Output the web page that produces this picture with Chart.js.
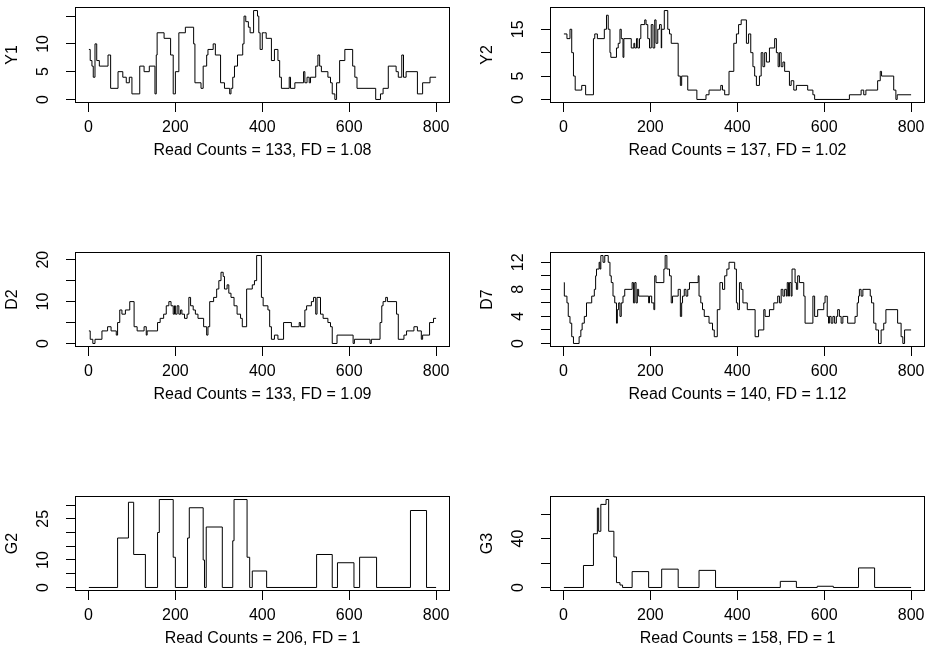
<!DOCTYPE html>
<html>
<head>
<meta charset="utf-8">
<script src="https://cdn.jsdelivr.net/npm/chart.js@4.4.1/dist/chart.umd.min.js"></script>
<style>
  body { margin: 0; background: #fff; }
  #wrap { position: relative; width: 926px; height: 661px; }
  canvas { position: absolute; }
</style>
</head>
<body>
<div id="wrap"></div>
<script>
// shared x axis ticks (position along the region)
const xTicks = [0, 200, 400, 600, 800];
const xMin = -31, xMax = 832;

// Y1
const y1Pos = [1,4,8,11,15,19,25,45,51,68,79,87,94,100,118,128,140,153,156,158,174,189,195,200,208,223,242,245,259,264,272,275,287,292,304,313,325,328,332,336,343,355,358,362,368,372,380,389,392,395,400,405,409,421,428,436,440,444,462,465,475,495,498,503,508,511,523,528,532,536,551,557,561,567,571,578,590,608,613,618,661,672,678,690,708,713,721,725,731,757,769,786,800];
const y1Val = [9,7,6,4,10,7,6,8,2,5,4,3,4,1,6,5,6,1,8,12,11,8,1,5,12,13,10,3,2,6,8,9,10,8,3,2,1,2,4,6,8,10,15,14,13,12,16,15,12,9,12,12,11,7,9,7,4,2,4,2,3,5,3,4,3,4,6,8,6,5,4,3,1,0,3,7,9,6,4,2,0,1,2,6,5,4,8,4,5,1,3,4,4];

// Y2
const y2Pos = [1,8,15,19,23,27,42,51,69,72,78,94,99,103,107,109,122,126,130,133,137,139,156,162,164,168,171,175,178,187,190,194,198,202,206,210,213,217,221,225,226,232,240,244,248,264,269,272,286,307,328,335,362,366,371,381,392,398,403,409,421,426,431,436,440,444,451,455,459,463,467,474,486,490,494,497,501,505,509,520,524,530,536,562,574,578,658,685,691,696,723,729,732,760,765,768,800];
const y2Val = [14,13,15,10,5,2,3,1,13,14,13,15,18,15,10,9,11,12,15,13,9,13,11,12,11,13,11,13,16,17,16,13,11,16,11,17,12,15,16,11,15,19,15,14,12,5,3,5,2,0,1,2,3,2,1,6,12,14,16,17,12,14,10,7,5,3,5,10,7,10,8,11,13,10,7,10,7,8,6,3,4,2,3,2,1,0,1,2,1,2,4,6,5,2,0,1,1];

// D2
const d2Pos = [1,4,10,15,31,44,52,64,67,72,77,85,95,105,112,128,133,135,159,165,173,179,185,190,195,198,200,204,208,212,215,221,227,231,235,241,246,252,265,272,275,279,288,295,300,305,310,313,319,323,328,335,342,350,354,364,377,382,387,398,402,413,417,421,428,436,449,467,485,488,498,502,513,518,523,526,534,540,551,557,561,572,609,612,648,651,671,675,678,684,688,709,713,726,732,749,757,766,769,785,794,800];
const d2Val = [3,1,0,1,3,4,3,2,5,8,7,8,10,4,3,4,2,3,5,6,7,9,10,9,7,9,7,9,7,8,7,6,7,11,9,8,7,6,4,2,4,10,11,13,15,17,16,13,14,12,11,9,7,6,4,13,14,15,21,11,9,8,4,1,2,1,5,4,5,4,8,9,10,11,7,11,7,6,5,4,0,2,0,1,0,1,5,9,10,11,10,7,1,2,3,4,3,1,2,5,6,6];

// D7
const d7Pos = [1,2,8,11,15,19,23,36,40,43,48,53,65,71,74,76,82,84,86,91,95,103,107,110,114,118,122,124,127,130,133,137,141,158,161,164,167,170,173,196,198,203,208,210,213,231,234,238,244,248,251,264,269,272,274,278,282,286,290,310,312,316,320,324,335,343,347,354,360,366,371,376,381,394,398,401,405,409,413,423,441,449,461,464,474,484,493,497,501,505,509,513,515,518,520,524,526,533,536,539,543,553,556,574,578,585,599,602,607,610,612,616,620,624,628,631,635,639,643,654,671,676,679,681,685,689,706,709,714,719,725,731,737,742,769,777,781,785,800];
const d7Val = [9,7,6,4,3,1,0,1,2,3,4,6,7,8,10,11,12,11,13,12,13,12,10,9,7,6,3,5,6,4,6,7,8,9,6,9,6,8,7,6,7,6,5,10,9,11,13,11,10,6,7,8,4,6,7,8,7,8,9,10,7,6,5,4,3,2,1,5,9,8,10,11,12,11,6,5,9,8,6,5,1,2,5,4,5,6,7,6,8,7,8,7,9,7,9,7,11,9,8,10,9,7,3,7,4,5,6,7,4,3,4,3,4,3,4,5,4,3,4,3,4,6,7,8,7,8,7,6,3,2,0,2,3,5,3,1,0,2,2];

// G2
const g2Pos = [1,67,92,104,131,159,163,195,200,228,232,264,267,271,308,332,335,365,371,377,410,525,561,573,611,624,663,741,778,800];
const g2Val = [0,18,31,12,0,20,32,11,0,18,29,10,0,22,0,17,32,11,0,6,0,12,0,9,0,11,0,28,0,0];

// G3
const g3Pos = [1,46,69,78,81,86,98,104,116,122,130,136,158,196,226,264,312,350,499,536,584,621,679,716,800];
const g3Val = [0,18,44,65,46,68,72,46,25,4,2,0,13,0,15,0,14,0,5,0,1,0,16,0,0];

// y ticks (all tick marks) and the labels that are printed
const y1Ticks = [0,5,10,15],          y1Labels = [0,5,10];
const y2Ticks = [0,5,10,15],          y2Labels = [0,5,15];
const d2Ticks = [0,5,10,15,20],       d2Labels = [0,10,20];
const d7Ticks = [0,2,4,6,8,10,12],    d7Labels = [0,4,8,12];
const g2Ticks = [0,5,10,15,20,25,30], g2Labels = [0,10,25];
const g3Ticks = [0,20,40,60],         g3Labels = [0,40];

const names  = ['Y1', 'Y2', 'D2', 'D7', 'G2', 'G3'];
const titles = [
  'Read Counts = 133, FD = 1.08',
  'Read Counts = 137, FD = 1.02',
  'Read Counts = 133, FD = 1.09',
  'Read Counts = 140, FD = 1.12',
  'Read Counts = 206, FD = 1',
  'Read Counts = 158, FD = 1'
];
const positions = [y1Pos, y2Pos, d2Pos, d7Pos, g2Pos, g3Pos];
const values    = [y1Val, y2Val, d2Val, d7Val, g2Val, g3Val];
const yTicks    = [y1Ticks, y2Ticks, d2Ticks, d7Ticks, g2Ticks, g3Ticks];
const yLabels   = [y1Labels, y2Labels, d2Labels, d7Labels, g2Labels, g3Labels];

// plot box geometry (pixels)
const colLeft = [75, 550], colRight = [450, 925];
const rowTop = [7, 252, 496], rowBottom = [103, 347, 591];
const LEFT_W = 75, BOTTOM_H = 62;
const FONT = '16px "Liberation Sans", Arial, sans-serif';

// R base graphics look: box, rotated y labels, x labels, titles
const rBase = {
  id: 'rBase',
  afterDraw(chart, args, opts) {
    const { ctx, chartArea: a, scales } = chart;
    ctx.save();
    ctx.strokeStyle = '#000';
    ctx.lineWidth = 1;
    ctx.strokeRect(a.left + 0.5, a.top + 0.5, a.right - a.left - 1, a.bottom - a.top - 1);
    ctx.fillStyle = '#000';
    ctx.font = FONT;
    ctx.textAlign = 'center';
    ctx.textBaseline = 'middle';
    xTicks.forEach(v => {
      ctx.fillText(String(v), scales.x.getPixelForValue(v), a.bottom + 25);
    });
    ctx.fillText(opts.title, (a.left + a.right) / 2, a.bottom + 48);
    opts.labels.forEach(v => {
      ctx.save();
      ctx.translate(a.left - 31, scales.y.getPixelForValue(v));
      ctx.rotate(-Math.PI / 2);
      ctx.fillText(String(v), 0, 0);
      ctx.restore();
    });
    ctx.save();
    ctx.translate(a.left - 62, (a.top + a.bottom) / 2);
    ctx.rotate(-Math.PI / 2);
    ctx.fillText(opts.name, 0, 0);
    ctx.restore();
    ctx.restore();
  }
};

const wrap = document.getElementById('wrap');

names.forEach((name, i) => {
  const col = i % 2, row = Math.floor(i / 2);
  const left = colLeft[col] - LEFT_W;
  const top = rowTop[row] - 7;
  const width = colRight[col] - left + 1;
  const height = rowBottom[row] - top + BOTTOM_H;

  const canvas = document.createElement('canvas');
  canvas.width = width;
  canvas.height = height;
  canvas.style.left = left + 'px';
  canvas.style.top = top + 'px';
  wrap.appendChild(canvas);

  const xs = positions[i], ys = values[i];
  const lo = Math.min(...ys), hi = Math.max(...ys);
  const pad = (hi - lo) * 0.04;
  const ticks = yTicks[i];

  new Chart(canvas.getContext('2d'), {
    type: 'line',
    data: {
      datasets: [{
        data: xs.map((x, k) => ({ x: x, y: ys[k] })),
        stepped: true,
        borderColor: '#000',
        borderWidth: 1,
        pointRadius: 0,
        fill: false
      }]
    },
    options: {
      responsive: false,
      animation: false,
      events: [],
      layout: { padding: { top: 7, right: 1, left: 0, bottom: 0 } },
      plugins: {
        legend: { display: false },
        tooltip: { enabled: false },
        rBase: { title: titles[i], name: name, labels: yLabels[i] }
      },
      scales: {
        x: {
          type: 'linear',
          min: xMin,
          max: xMax,
          afterBuildTicks: s => { s.ticks = xTicks.map(v => ({ value: v })); },
          afterFit: s => { s.height = BOTTOM_H; },
          ticks: { display: false },
          border: { display: false },
          grid: { drawOnChartArea: false, drawTicks: true, tickLength: 9, color: '#000', lineWidth: 1 }
        },
        y: {
          type: 'linear',
          min: lo - pad,
          max: hi + pad,
          afterBuildTicks: s => { s.ticks = ticks.map(v => ({ value: v })); },
          afterFit: s => { s.width = LEFT_W; },
          ticks: { display: false },
          border: { display: false },
          grid: { drawOnChartArea: false, drawTicks: true, tickLength: 9, color: '#000', lineWidth: 1 }
        }
      }
    },
    plugins: [rBase]
  });
});
</script>
</body>
</html>
